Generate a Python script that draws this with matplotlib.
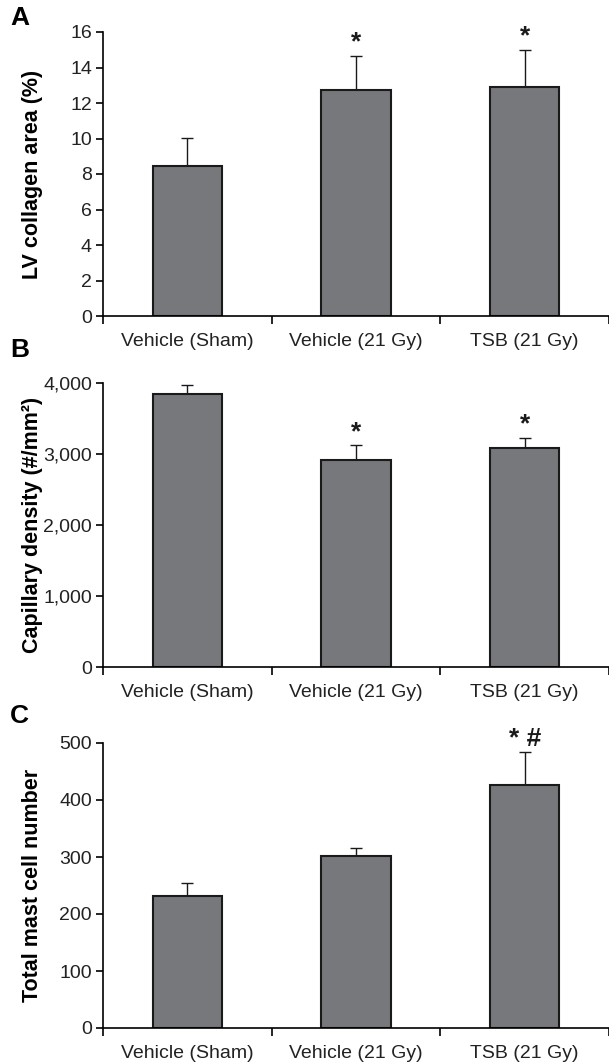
import matplotlib
matplotlib.use("Agg")
import matplotlib.pyplot as plt
import numpy as np

plt.rcParams['font.family'] = ['Liberation Sans', 'DejaVu Sans']

groups = ["Vehicle (Sham)", "Vehicle (21 Gy)", "TSB (21 Gy)"]

# panel A
collagen = [8.45, 12.75, 12.9]
collagen_err = [1.6, 1.9, 2.1]
collagen_marks = ["", "*", "*"]

# panel B
capillary = [3845, 2920, 3080]
capillary_err = [122, 202, 150]
capillary_marks = ["", "*", "*"]

# panel C
mast = [232, 302, 427]
mast_err = [22, 14, 57]
mast_marks = ["", "", "* #"]

panels = [
    ("A", "LV collagen area (%)", collagen, collagen_err, collagen_marks,
     np.arange(0, 17, 2), 16, lambda v: f"{v:g}"),
    ("B", "Capillary density (#/mm²)", capillary, capillary_err, capillary_marks,
     np.arange(0, 4001, 1000), 4000, lambda v: f"{v:,.0f}"),
    ("C", "Total mast cell number", mast, mast_err, mast_marks,
     np.arange(0, 501, 100), 500, lambda v: f"{v:g}"),
]

fig = plt.figure(figsize=(6.09, 10.64), dpi=100)
H = 1064.0
boxes = [(32, 316), (383, 667), (743, 1028)]
letter_y = [18, 350, 716]

bar_color = "#77787c"
x = np.arange(3) + 0.5

for (letter, ylabel, vals, errs, marks, yt, ymax, fmt), (top, bot), ly in zip(panels, boxes, letter_y):
    ax = fig.add_axes([103 / 609, 1 - bot / H, 506 / 609, (bot - top) / H])
    ax.bar(x, vals, width=0.41, color=bar_color, edgecolor="#1a1a1a", linewidth=1.5, zorder=2)
    ax.errorbar(x, vals, yerr=[np.zeros(3), errs], fmt="none", ecolor="#1a1a1a",
                elinewidth=1.0, capsize=4, capthick=1.0, zorder=1)
    for xi, v, e, m in zip(x, vals, errs, marks):
        if m:
            ax.text(xi, v + e + ymax * 0.005, m, ha="center", va="bottom",
                    fontsize=19, fontweight="bold", color="#1a1a1a")
    ax.set_xlim(0, 3)
    ax.set_ylim(0, ymax)
    ax.set_yticks(yt)
    ax.set_yticklabels([fmt(v) for v in yt])
    ax.set_xticks([0, 1, 2, 3])
    ax.set_xticklabels([])
    ax.set_xticks(x, minor=True)
    ax.set_xticklabels(groups, minor=True)
    ax.tick_params(axis="x", which="minor", length=0, pad=12, labelsize=14, labelcolor="#222222")
    ax.tick_params(axis="x", which="major", direction="out", length=6, width=1.2)
    ax.tick_params(axis="y", direction="out", length=5, width=1.2, labelsize=14, pad=3,
                   labelcolor="#222222")
    ax.spines["top"].set_visible(False)
    ax.spines["right"].set_visible(False)
    ax.spines["left"].set_linewidth(1.2)
    ax.spines["bottom"].set_linewidth(1.2)
    ax.set_ylabel(ylabel, fontsize=15.5, fontweight="bold")
    ax.yaxis.set_label_coords(-0.118, 0.5)
    fig.text(10 / 609, 1 - ly / H, letter, fontsize=19, fontweight="bold", va="center", ha="left")

fig.savefig("out.png", dpi=100)
